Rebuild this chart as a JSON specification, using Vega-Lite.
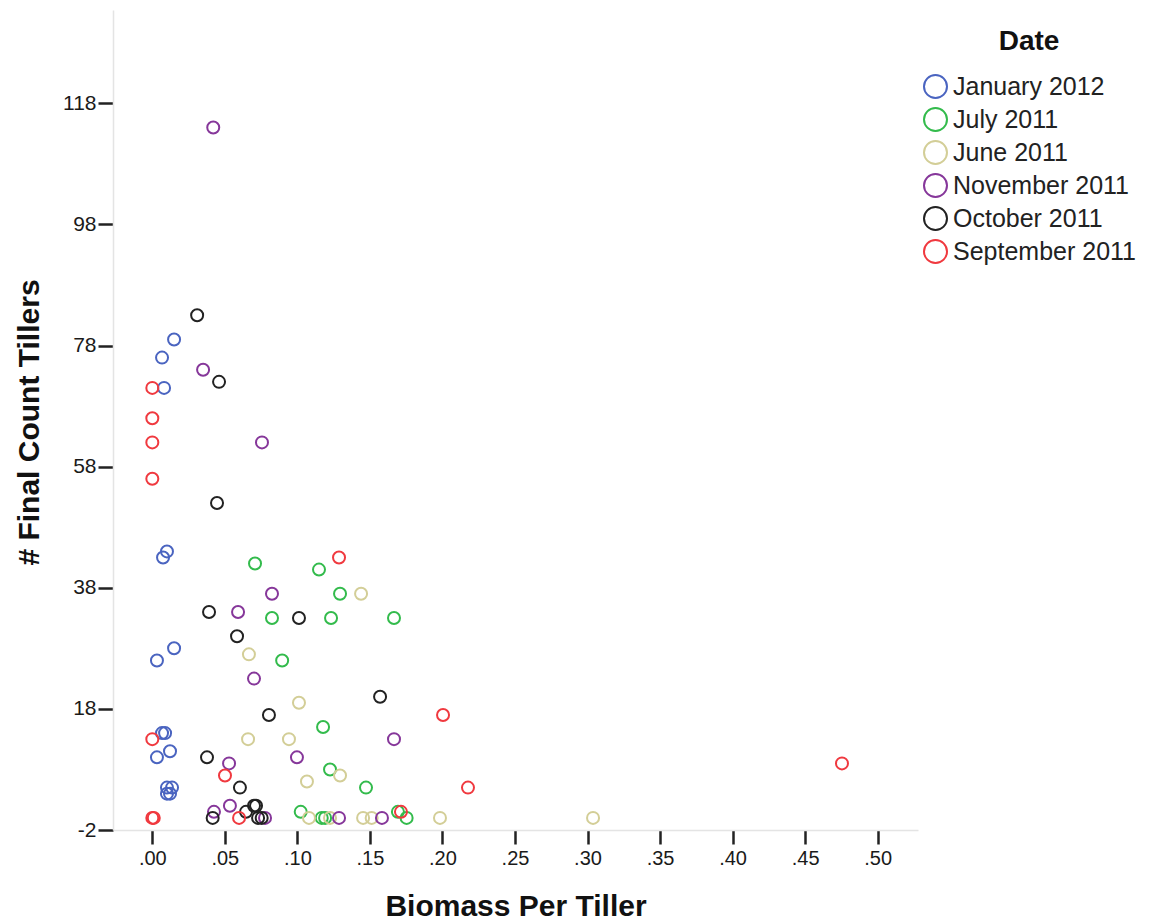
{
  "$schema": "https://vega.github.io/schema/vega-lite/v6.json",
  "width": 805,
  "height": 820,
  "autosize": {"type": "none"},
  "padding": {"left": 113, "top": 10, "right": 232, "bottom": 92},
  "background": "white",
  "config": {
    "view": {"stroke": null},
    "font": "Liberation Sans"
  },
  "data": {
    "values": [
      {"date": "January 2012", "biomass": 0.015, "tillers": 79},
      {"date": "January 2012", "biomass": 0.0067, "tillers": 76},
      {"date": "January 2012", "biomass": 0.0081, "tillers": 71},
      {"date": "January 2012", "biomass": 0.0101, "tillers": 44},
      {"date": "January 2012", "biomass": 0.0074, "tillers": 43},
      {"date": "January 2012", "biomass": 0.015, "tillers": 28},
      {"date": "January 2012", "biomass": 0.0032, "tillers": 26},
      {"date": "January 2012", "biomass": 0.0067, "tillers": 14},
      {"date": "January 2012", "biomass": 0.0088, "tillers": 14},
      {"date": "January 2012", "biomass": 0.0122, "tillers": 11},
      {"date": "January 2012", "biomass": 0.0032, "tillers": 10},
      {"date": "January 2012", "biomass": 0.0101, "tillers": 5},
      {"date": "January 2012", "biomass": 0.0136, "tillers": 5},
      {"date": "January 2012", "biomass": 0.0101, "tillers": 4},
      {"date": "January 2012", "biomass": 0.0122, "tillers": 4},

      {"date": "July 2011", "biomass": 0.0708, "tillers": 42},
      {"date": "July 2011", "biomass": 0.1149, "tillers": 41},
      {"date": "July 2011", "biomass": 0.1294, "tillers": 37},
      {"date": "July 2011", "biomass": 0.0825, "tillers": 33},
      {"date": "July 2011", "biomass": 0.1232, "tillers": 33},
      {"date": "July 2011", "biomass": 0.1666, "tillers": 33},
      {"date": "July 2011", "biomass": 0.0895, "tillers": 26},
      {"date": "July 2011", "biomass": 0.1177, "tillers": 15},
      {"date": "July 2011", "biomass": 0.1225, "tillers": 8},
      {"date": "July 2011", "biomass": 0.1473, "tillers": 5},
      {"date": "July 2011", "biomass": 0.1023, "tillers": 1},
      {"date": "July 2011", "biomass": 0.1168, "tillers": 0},
      {"date": "July 2011", "biomass": 0.1191, "tillers": 0},
      {"date": "July 2011", "biomass": 0.1693, "tillers": 1},
      {"date": "July 2011", "biomass": 0.1753, "tillers": 0},

      {"date": "June 2011", "biomass": 0.1439, "tillers": 37},
      {"date": "June 2011", "biomass": 0.0666, "tillers": 27},
      {"date": "June 2011", "biomass": 0.1011, "tillers": 19},
      {"date": "June 2011", "biomass": 0.066, "tillers": 13},
      {"date": "June 2011", "biomass": 0.0942, "tillers": 13},
      {"date": "June 2011", "biomass": 0.1294, "tillers": 7},
      {"date": "June 2011", "biomass": 0.1066, "tillers": 6},
      {"date": "June 2011", "biomass": 0.108, "tillers": 0},
      {"date": "June 2011", "biomass": 0.1225, "tillers": 0},
      {"date": "June 2011", "biomass": 0.1453, "tillers": 0},
      {"date": "June 2011", "biomass": 0.1512, "tillers": 0},
      {"date": "June 2011", "biomass": 0.1983, "tillers": 0},
      {"date": "June 2011", "biomass": 0.3038, "tillers": 0},

      {"date": "November 2011", "biomass": 0.042, "tillers": 114},
      {"date": "November 2011", "biomass": 0.035, "tillers": 74},
      {"date": "November 2011", "biomass": 0.0756, "tillers": 62},
      {"date": "November 2011", "biomass": 0.0825, "tillers": 37},
      {"date": "November 2011", "biomass": 0.0591, "tillers": 34},
      {"date": "November 2011", "biomass": 0.0701, "tillers": 23},
      {"date": "November 2011", "biomass": 0.1666, "tillers": 13},
      {"date": "November 2011", "biomass": 0.0997, "tillers": 10},
      {"date": "November 2011", "biomass": 0.0529, "tillers": 9},
      {"date": "November 2011", "biomass": 0.0425, "tillers": 1},
      {"date": "November 2011", "biomass": 0.0535, "tillers": 2},
      {"date": "November 2011", "biomass": 0.0777, "tillers": 0},
      {"date": "November 2011", "biomass": 0.1287, "tillers": 0},
      {"date": "November 2011", "biomass": 0.1583, "tillers": 0},

      {"date": "October 2011", "biomass": 0.0309, "tillers": 83},
      {"date": "October 2011", "biomass": 0.046, "tillers": 72},
      {"date": "October 2011", "biomass": 0.0446, "tillers": 52},
      {"date": "October 2011", "biomass": 0.0391, "tillers": 34},
      {"date": "October 2011", "biomass": 0.1011, "tillers": 33},
      {"date": "October 2011", "biomass": 0.0584, "tillers": 30},
      {"date": "October 2011", "biomass": 0.157, "tillers": 20},
      {"date": "October 2011", "biomass": 0.0804, "tillers": 17},
      {"date": "October 2011", "biomass": 0.0377, "tillers": 10},
      {"date": "October 2011", "biomass": 0.0604, "tillers": 5},
      {"date": "October 2011", "biomass": 0.0416, "tillers": 0},
      {"date": "October 2011", "biomass": 0.0646, "tillers": 1},
      {"date": "October 2011", "biomass": 0.0715, "tillers": 2},
      {"date": "October 2011", "biomass": 0.0701, "tillers": 2},
      {"date": "October 2011", "biomass": 0.0754, "tillers": 0},
      {"date": "October 2011", "biomass": 0.0729, "tillers": 0},

      {"date": "September 2011", "biomass": 0.0, "tillers": 71},
      {"date": "September 2011", "biomass": 0.0, "tillers": 66},
      {"date": "September 2011", "biomass": 0.0, "tillers": 62},
      {"date": "September 2011", "biomass": 0.0, "tillers": 56},
      {"date": "September 2011", "biomass": 0.1287, "tillers": 43},
      {"date": "September 2011", "biomass": 0.2004, "tillers": 17},
      {"date": "September 2011", "biomass": 0.0, "tillers": 13},
      {"date": "September 2011", "biomass": 0.0501, "tillers": 7},
      {"date": "September 2011", "biomass": 0.2176, "tillers": 5},
      {"date": "September 2011", "biomass": 0.4754, "tillers": 9},
      {"date": "September 2011", "biomass": 0.0, "tillers": 0},
      {"date": "September 2011", "biomass": 0.001, "tillers": 0},
      {"date": "September 2011", "biomass": 0.0598, "tillers": 0},
      {"date": "September 2011", "biomass": 0.1714, "tillers": 1}
    ]
  },
  "mark": {"type": "point", "shape": "circle", "filled": false, "size": 144, "strokeWidth": 2, "opacity": 1},
  "encoding": {
    "x": {
      "field": "biomass",
      "type": "quantitative",
      "scale": {"domain": [-0.0271, 0.5278], "nice": false, "zero": false},
      "axis": {
        "title": "Biomass Per Tiller",
        "values": [0, 0.05, 0.1, 0.15, 0.2, 0.25, 0.3, 0.35, 0.4, 0.45, 0.5],
        "labelExpr": "replace(format(datum.value, '.2f'), '0.', '.')",
        "grid": false,
        "domainColor": "#e4e4e4",
        "domainWidth": 1.5,
        "tickColor": "#222222",
        "tickWidth": 2.5,
        "tickSize": 14,
        "labelFontSize": 20,
        "labelColor": "#1a1a1a",
        "labelPadding": 4,
        "titleFontSize": 30,
        "titleFontWeight": "bold",
        "titleColor": "#111111",
        "titleY": 85,
        "titleBaseline": "alphabetic"
      }
    },
    "y": {
      "field": "tillers",
      "type": "quantitative",
      "scale": {"domain": [-2, 133.4], "nice": false, "zero": false},
      "axis": {
        "title": "# Final Count Tillers",
        "values": [-2, 18, 38, 58, 78, 98, 118],
        "labelExpr": "datum.value < 0 ? '-' + abs(datum.value) : '' + datum.value",
        "grid": false,
        "domainColor": "#e4e4e4",
        "domainWidth": 1.5,
        "tickColor": "#222222",
        "tickWidth": 2.5,
        "tickSize": 15,
        "labelFontSize": 21,
        "labelColor": "#1a1a1a",
        "labelPadding": 2,
        "titleFontSize": 30,
        "titleFontWeight": "bold",
        "titleColor": "#111111",
        "titleAngle": -90,
        "titleX": -84,
        "titleY": 412,
        "titleBaseline": "middle",
        "titleAlign": "center"
      }
    },
    "color": {
      "field": "date",
      "type": "nominal",
      "scale": {
        "domain": ["January 2012", "July 2011", "June 2011", "November 2011", "October 2011", "September 2011"],
        "range": ["#4a64c0", "#33bb4c", "#d3ce97", "#86379a", "#222222", "#f0393f"]
      },
      "legend": {
        "title": "Date",
        "orient": "none",
        "legendX": 810,
        "legendY": 18,
        "padding": 0,
        "titleFontSize": 28,
        "titleFontWeight": "bold",
        "titleColor": "#111111",
        "titleAnchor": "middle",
        "titlePadding": 18,
        "labelFontSize": 25,
        "labelColor": "#222222",
        "labelOffset": 5,
        "labelLimit": 400,
        "symbolType": "circle",
        "symbolSize": 529,
        "symbolStrokeWidth": 2,
        "rowPadding": 2
      }
    }
  }
}
